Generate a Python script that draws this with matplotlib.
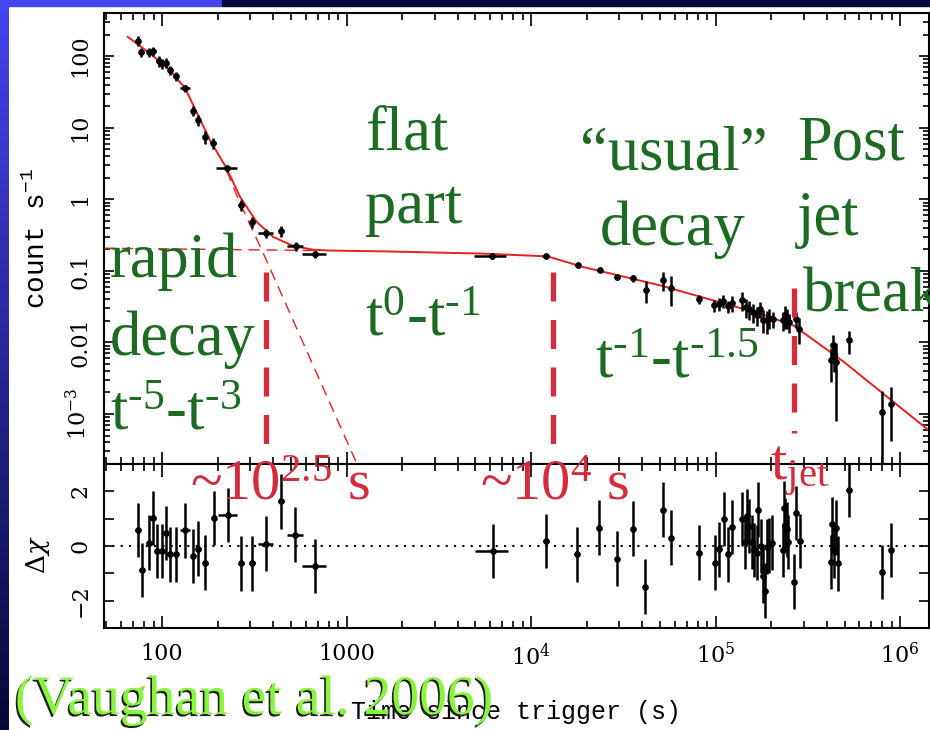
import numpy as np
import matplotlib.pyplot as plt
import matplotlib.patheffects as pe
from matplotlib.ticker import LogLocator, FixedLocator, FuncFormatter, NullFormatter

plt.rcParams['mathtext.fontset'] = 'dejavuserif'

# X-ray light curve: time since trigger (s), count rate (count/s), fractional errors
t = [73.9, 77.3, 85.4, 89.7, 96.0, 100, 104.7, 110.9, 118.6, 133.7,
     147.2, 156.7, 171, 189.7, 224.3, 269.2, 308.5, 366.3, 441.6, 530.6,
     672.5, 6124, 12020, 17870, 23550, 29420, 35560, 42170, 51760, 57400,
     81450, 98610, 105000, 110300, 116500, 122800, 138600, 145800, 152500, 160300,
     167200, 174300, 181600, 189500, 195800, 204300, 233200, 238900, 244900, 251200,
     273100, 284700, 431600, 438700, 449900, 422400, 531000, 795000, 891000]
rate = [164, 114, 114, 118, 85, 79, 81, 64, 52.5, 35.3,
        17.2, 12.7, 7.43, 6.12, 2.69, 0.824, 0.482, 0.338, 0.360, 0.222,
        0.170, 0.160, 0.160, 0.119, 0.104, 0.0819, 0.0785, 0.0542, 0.0736, 0.0582,
        0.0399, 0.0329, 0.0347, 0.0378, 0.0319, 0.0354, 0.0387, 0.0312, 0.0296, 0.0265,
        0.0239, 0.0290, 0.0208, 0.0203, 0.0222, 0.0214, 0.0203, 0.0239, 0.0222, 0.0192,
        0.0214, 0.0156, 0.00908, 0.00695, 0.00530, 0.00560, 0.0107, 0.00106, 0.00139]
t_frac = [0.03] * 9 + [0.06, 0.03, 0.03, 0.03, 0.03, 0.13, 0.03, 0.04, 0.09, 0.04, 0.10,
                       0.15, 0.20, 0.04] + [0.03] * 4 + [0.02] * 32
rate_frac = [0.15, 0.15, 0.15, 0.15, 0.17, 0.17, 0.17, 0.15, 0.15, 0.12,
             0.15, 0.17, 0.20, 0.17, 0.10, 0.17, 0.17, 0.15, 0.17, 0.15,
             0.12, 0.10, 0.06, 0.08, 0.08, 0.10, 0.10, 0.35, 0.30, 0.45,
             0.15, 0.20, 0.20, 0.20, 0.20, 0.25, 0.30, 0.30, 0.30, 0.30,
             0.30, 0.25, 0.35, 0.35, 0.30, 0.25, 0.30, 0.35, 0.30, 0.30,
             0.25, 0.40, 0.40, 0.45, 0.85, 0.50, 0.35, 0.97, 0.70]

# fit residuals (delta chi)
res_t = [73.8, 77.6, 85.3, 89.7, 94.3, 99.6, 104.7, 110.5, 119.0, 133.3,
         147.2, 157.4, 171.8, 190.6, 228, 269, 308.5, 364.6, 441.6, 527,
         677, 6250, 12050, 17820, 23440, 29150, 35590, 41680, 51800, 57450,
         81500, 99400, 104500, 110700, 116400, 123300, 138700, 144500, 148700, 152400,
         157000, 161700, 167200, 170700, 176500, 180400, 185500, 189500, 195800, 201700,
         231400, 235100, 238200, 243200, 247200, 266500, 272300, 287300, 422900, 427800,
         440300, 449800, 459200, 531000, 801600, 891000]
res_v = [0.58, -0.88, 0.12, 1.03, -0.18, -0.18, 0.48, -0.30, -0.30, 0.57,
         -0.36, -0.10, -0.61, 1.03, 1.13, -0.64, -0.64, 0.08, 1.64, 0.42,
         -0.73, -0.18, 0.18, -0.30, 0.67, -0.46, 0.64, -1.49, 1.33, 0.30,
         -0.24, -0.61, -0.12, 0.99, -0.30, 0.70, 0.99, 0.15, 1.09, 0.73,
         0.15, -0.15, -0.24, 1.33, 0.0, -1.09, -1.64, -0.02, 0.02, 0.12,
         -0.15, 1.39, 0.75, 0.61, 0.15, -1.31, 1.21, 0.18, -0.58, 0.79,
         -0.18, 0.67, -0.63, 2.06, -0.95, -0.15]
res_tfrac = [0.03] * 9 + [0.06, 0.03, 0.03, 0.03, 0.03, 0.12, 0.03, 0.04, 0.09, 0.04, 0.10,
                          0.15, 0.20, 0.04] + [0.02] * 43
res_err = [1.0] * len(res_v)

# best-fit model and its two components
model_t = [65.2, 86.1, 110.5, 133.7, 182, 224.3, 264.8, 326, 401, 515,
           661, 814, 1581, 5508, 12300, 19190, 50020, 174300, 264000, 493000, 1.455e6]
model_r = [186, 109, 63.7, 35.3, 6.68, 2.69, 1.08, 0.482, 0.297, 0.222,
           0.197, 0.192, 0.187, 0.174, 0.159, 0.113, 0.0627, 0.0252, 0.0173, 0.0054, 5.7e-4]
rapid_t = [224, 265, 348, 1140]
rapid_r = [2.5, 0.88, 0.194, 2.0e-4]
plateau_t = [48.5, 700]
plateau_r = [0.207, 0.192]

# break times marked by thick dashed lines
break_t = [365, 13200, 267000]
break_top = [0.095, 0.095, 0.057]
break_bottom = [3.4e-4, 3.6e-4, 5.5e-4]

W, H = 930, 730
GREEN = '#1d6b22'
RED = '#d42c3c'
HY = '\u2010'  # short hyphen for the exponents


def fx(x):
    return x / W


def fy(y):
    return 1 - y / H


def powers(a, b):
    return ('$\\mathdefault{t^{%s}}$-$\\mathdefault{t^{%s}}$'
            % (a.replace('-', HY), b.replace('-', HY)))


fig = plt.figure(figsize=(W / 100, H / 100), dpi=100, facecolor='white')

# slide frame: blue strip on the left and along the top
strip = fig.add_axes([0, 0, fx(8), 1])
grad = np.linspace(0, 1, 256).reshape(-1, 1)
top_c = np.array([0.27, 0.27, 0.95])
bot_c = np.array([0.03, 0.03, 0.22])
strip.imshow((top_c + (bot_c - top_c) * grad[:, :, None]), aspect='auto')
strip.set_axis_off()
fig.patches.append(plt.Rectangle((0, fy(6)), fx(222), 6 / H, transform=fig.transFigure,
                                 color='#4646ee', zorder=5))
fig.patches.append(plt.Rectangle((fx(222), fy(6)), 1 - fx(222), 6 / H, transform=fig.transFigure,
                                 color='#0a0a3c', zorder=5))

ax = fig.add_axes([fx(104), fy(464), fx(929) - fx(104), (464 - 13) / H])
axr = fig.add_axes([fx(104), fy(628), fx(929) - fx(104), (628 - 464) / H], sharex=ax)

t_arr = np.array(t)
r_arr = np.array(rate)
ax.errorbar(t_arr, r_arr, xerr=t_arr * np.array(t_frac), yerr=r_arr * np.array(rate_frac),
            fmt='o', ms=3.8, color='k', elinewidth=1.8, capsize=0, zorder=3)
ax.plot(model_t, model_r, color='#e82020', lw=1.4, zorder=2)
ax.plot(rapid_t, rapid_r, color='#e82020', lw=1.0, ls=(0, (8, 5)), zorder=2)
ax.plot(plateau_t, plateau_r, color='#e82020', lw=1.0, ls=(0, (8, 5)), zorder=2)
for bt, b0, b1 in zip(break_t, break_top, break_bottom):
    ax.plot([bt, bt], [b0, b1], color=RED, lw=3.8, ls=(0, (5.5, 3.5)), zorder=4)

rt = np.array(res_t)
axr.errorbar(rt, res_v, xerr=rt * np.array(res_tfrac), yerr=res_err,
             fmt='o', ms=3.8, color='k', elinewidth=1.8, capsize=0, zorder=3)
axr.axhline(0, color='k', lw=1.5, ls=(0, (1, 3)), zorder=1)

ax.set_xscale('log')
ax.set_yscale('log')
ax.set_xlim(48.5, 1.435e6)
ax.set_ylim(2e-4, 400)
axr.set_ylim(-3, 3)


def xlab(v, pos):
    e = int(round(np.log10(v)))
    return {2: '100', 3: '1000'}.get(e, r'$\mathdefault{10^{%d}}$' % e)


def ylab(v, pos):
    e = int(round(np.log10(v)))
    names = {2: '100', 1: '10', 0: '1', -1: '0.1', -2: '0.01'}
    return names.get(e, r'$\mathdefault{10^{%d}}$' % e)


for a in (ax, axr):
    a.xaxis.set_major_locator(LogLocator(base=10, numticks=20))
    a.xaxis.set_minor_locator(LogLocator(base=10, subs=np.arange(2, 10), numticks=20))
    a.xaxis.set_minor_formatter(NullFormatter())
    a.tick_params(which='both', direction='in', top=True, right=True, width=1.2,
                  labelsize=16, labelfontfamily='DejaVu Serif')
    a.tick_params(axis='x', which='major', length=9)
    a.tick_params(axis='x', which='minor', length=5)
    a.tick_params(axis='y', which='major', length=7, labelrotation=90, pad=9)
    a.tick_params(axis='y', which='minor', length=4)
    for s in a.spines.values():
        s.set_linewidth(1.5)

ax.yaxis.set_major_locator(LogLocator(base=10, numticks=20))
ax.yaxis.set_minor_locator(LogLocator(base=10, subs=np.arange(2, 10), numticks=20))
ax.yaxis.set_major_formatter(FuncFormatter(ylab))
ax.yaxis.set_minor_formatter(NullFormatter())
ax.tick_params(axis='x', labelbottom=False)
axr.xaxis.set_major_formatter(FuncFormatter(xlab))
axr.tick_params(axis='x', pad=11)
axr.yaxis.set_major_locator(FixedLocator([-2, 0, 2]))
axr.yaxis.set_minor_locator(FixedLocator([-1, 1]))
axr.yaxis.set_major_formatter(FuncFormatter(lambda v, p: ('%d' % v).replace('-', '\u2212')))
axr.tick_params(axis='y', which='minor', length=7)
plt.setp(ax.get_yticklabels(), va='center')
plt.setp(axr.get_yticklabels(), va='center')

fig.text(fx(37), fy(238), r'count s$^{\mathdefault{-1}}$', rotation=90, ha='center', va='center',
         fontsize=20, family='Liberation Mono')
fig.text(fx(38), fy(555), r'$\Delta\chi$', rotation=90, ha='center', va='center', fontsize=19)
fig.text(fx(516), fy(712), 'Time since trigger (s)', ha='center', va='center',
         fontsize=18, family='Liberation Mono')

# phase annotations
gtxt = dict(color=GREEN, fontsize=45, family='Liberation Serif', ha='left', va='baseline')
fig.text(fx(110), fy(277), 'rapid', **gtxt)
fig.text(fx(110), fy(355), 'decay', **gtxt)
fig.text(fx(110), fy(430), powers('-5', '-3'), **gtxt)
fig.text(fx(365), fy(150), 'flat', **gtxt)
fig.text(fx(365), fy(223), 'part', **gtxt)
fig.text(fx(365), fy(336), powers('0', '-1'), **gtxt)
fig.text(fx(580), fy(170), '\u201cusual\u201d', **gtxt)
fig.text(fx(600), fy(245), 'decay', **gtxt)
fig.text(fx(595), fy(378), powers('-1', '-1.5'), **gtxt)
fig.text(fx(797), fy(160), 'Post', **gtxt)
fig.text(fx(797), fy(235), 'jet', **gtxt)
fig.text(fx(803), fy(311), 'break', **gtxt)

rtxt = dict(color=RED, fontsize=42, family='Liberation Serif', ha='left', va='baseline')
fig.text(fx(190), fy(500), r'~$\mathdefault{10^{2.5}}$ s', **rtxt)
fig.text(fx(480), fy(500), r'~$\mathdefault{10^{4}}$ s', **rtxt)
fig.text(fx(770), fy(480), r'$\mathdefault{t_{jet}}$', **rtxt)

fig.text(fx(15), fy(714), '(Vaughan et al. 2006)', color='#86f53c', fontsize=40,
         family='Liberation Serif', ha='left', va='baseline',
         path_effects=[pe.SimplePatchShadow(offset=(-1.2, -1.5), shadow_rgbFace='#202020', alpha=1),
                       pe.Normal()])

fig.savefig('out.png', dpi=100, facecolor='white')
